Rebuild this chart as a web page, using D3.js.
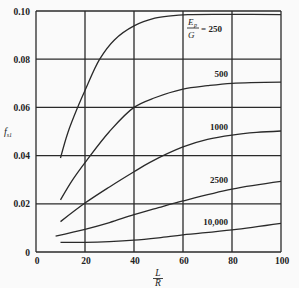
<!DOCTYPE html>
<html>
<head>
<meta charset="utf-8">
<script src="https://cdn.jsdelivr.net/npm/d3@7"></script>
<style>
  body { margin: 0; background: #fafafa; }
  svg { display: block; }
  text { font-family: "Liberation Serif", "DejaVu Serif", serif; fill: #222; }
</style>
</head>
<body>
<svg width="299" height="288"></svg>
<script>
// values: L/R against f
var xTicks = [0, 20, 40, 60, 80, 100];
var yTicks = [0, 0.02, 0.04, 0.06, 0.08, 0.10];
var yTickLabels = ["0", "0.02", "0.04", "0.06", "0.08", "0.10"];

var c250 = [[10,0.039],[13,0.0495],[17,0.060],[20,0.067],[26,0.080],[32,0.088],[40,0.0938],[48.5,0.097],[55,0.098],[62,0.0985],[80,0.0986],[100,0.0985]];
var c500 = [[10,0.0216],[15,0.030],[20.7,0.038],[30,0.050],[40,0.060],[48.5,0.064],[60,0.0676],[70,0.069],[80,0.070],[100,0.0705]];
var c1000 = [[10,0.0126],[20,0.0203],[30,0.027],[40,0.0333],[46.5,0.0372],[60,0.0436],[70,0.0467],[80,0.0485],[90,0.0496],[100,0.0502]];
var c2500 = [[8,0.0066],[20,0.0094],[30,0.0122],[40,0.0155],[50,0.0184],[60,0.0212],[80,0.0261],[100,0.0293]];
var c10000 = [[10,0.0040],[20,0.0040],[30,0.0043],[40,0.0049],[50,0.0059],[60,0.0071],[80,0.0092],[100,0.0119]];

var curves = [c250, c500, c1000, c2500, c10000];
var curveLabels = ["500", "1000", "2500", "10,000"];
var labelPos = [[80,0.0725],[80,0.0505],[80,0.0285],[80,0.0112]];

var svg = d3.select("svg");
var x = d3.scaleLinear().domain([0, 100]).range([36, 281]);
var y = d3.scaleLinear().domain([0, 0.10]).range([252, 11]);
var ink = "#2a2a2a";

// grid
svg.append("g").selectAll("line.v")
  .data(xTicks)
  .enter().append("line")
    .attr("x1", function(d) { return x(d); })
    .attr("x2", function(d) { return x(d); })
    .attr("y1", y(0)).attr("y2", y(0.10))
    .attr("stroke", ink).attr("stroke-width", 1.3);
svg.append("g").selectAll("line.h")
  .data(yTicks)
  .enter().append("line")
    .attr("y1", function(d) { return y(d); })
    .attr("y2", function(d) { return y(d); })
    .attr("x1", x(0)).attr("x2", x(100))
    .attr("stroke", ink).attr("stroke-width", 1.3);

// tick labels
svg.append("g").selectAll("text")
  .data(yTicks)
  .enter().append("text")
    .attr("x", 30)
    .attr("y", function(d) { return y(d) + 3.5; })
    .attr("text-anchor", "end")
    .attr("font-size", 9.5)
    .attr("font-weight", "bold")
    .text(function(d, i) { return yTickLabels[i]; });
svg.append("g").selectAll("text")
  .data(xTicks)
  .enter().append("text")
    .attr("x", function(d) { return x(d) + 1; })
    .attr("y", 264)
    .attr("text-anchor", "middle")
    .attr("font-size", 9.5)
    .attr("font-weight", "bold")
    .text(function(d) { return d; });

// curves
var line = d3.line()
    .x(function(d) { return x(d[0]); })
    .y(function(d) { return y(d[1]); })
    .curve(d3.curveCatmullRom.alpha(0.5));
svg.append("g").selectAll("path")
  .data(curves)
  .enter().append("path")
    .attr("d", line)
    .attr("fill", "none")
    .attr("stroke", ink)
    .attr("stroke-width", 1.3);

// curve labels
svg.append("g").selectAll("text")
  .data(curveLabels)
  .enter().append("text")
    .attr("x", function(d, i) { return x(labelPos[i][0]) - 4; })
    .attr("y", function(d, i) { return y(labelPos[i][1]); })
    .attr("text-anchor", "end")
    .attr("font-size", 9)
    .attr("font-weight", "bold")
    .text(function(d) { return d; });

// Ep/G = 250
var fr = svg.append("g").attr("font-size", 9).attr("font-style", "italic");
fr.append("text").attr("x", 188).attr("y", 25).text("E");
fr.append("text").attr("x", 194).attr("y", 27).attr("font-size", 6).text("p");
fr.append("line").attr("x1", 187).attr("x2", 199).attr("y1", 28).attr("y2", 28)
  .attr("stroke", ink).attr("stroke-width", 0.9);
fr.append("text").attr("x", 188).attr("y", 38).text("G");
svg.append("text").attr("x", 201).attr("y", 32)
  .attr("font-size", 9).attr("font-weight", "bold").text("= 250");

// axis titles
var yl = svg.append("text").attr("x", 4).attr("y", 135).attr("font-size", 10).attr("font-style", "italic");
yl.append("tspan").text("f");
yl.append("tspan").attr("font-size", 6).attr("dy", 2).text("s1");

var xl = svg.append("g").attr("font-size", 9.5).attr("font-style", "italic").attr("text-anchor", "middle");
xl.append("text").attr("x", 158).attr("y", 276).text("L");
xl.append("line").attr("x1", 153).attr("x2", 163).attr("y1", 278.5).attr("y2", 278.5)
  .attr("stroke", ink).attr("stroke-width", 0.9);
xl.append("text").attr("x", 158).attr("y", 286).text("R");
</script>
</body>
</html>
